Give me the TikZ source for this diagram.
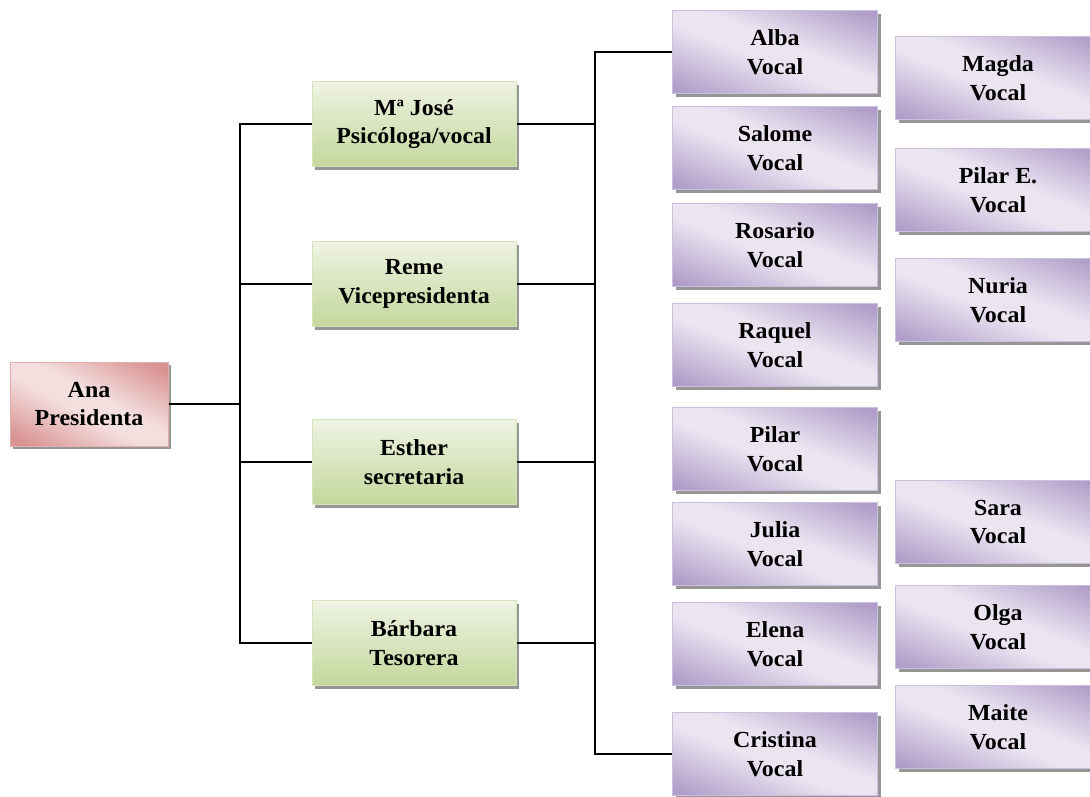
\documentclass[tikz,border=0pt]{standalone}
\usepackage{fontspec}
\setmainfont{Liberation Serif}[FakeStretch=1.04]
\usetikzlibrary{shadows}
\definecolor{pdark}{RGB}{176,157,201}
\definecolor{plight}{RGB}{234,229,241}
\definecolor{pborder}{RGB}{204,193,221}
\definecolor{rdark}{RGB}{216,146,145}
\definecolor{rlight}{RGB}{244,223,223}
\definecolor{rborder}{RGB}{228,174,174}
\definecolor{gdark}{RGB}{196,215,156}
\definecolor{glight}{RGB}{238,243,227}
\definecolor{gborder}{RGB}{214,227,188}
\definecolor{shadowgray}{RGB}{150,150,150}
\pgfdeclarehorizontalshading{purpshade}{100bp}{color(0bp)=(pdark); color(20bp)=(pdark); color(45bp)=(plight); color(55bp)=(plight); color(80bp)=(pdark); color(100bp)=(pdark)}
\pgfdeclarehorizontalshading{pinkshade}{100bp}{color(0bp)=(rdark); color(20bp)=(rdark); color(45bp)=(rlight); color(55bp)=(rlight); color(80bp)=(rdark); color(100bp)=(rdark)}
\tikzset{
  box/.style={rectangle, inner sep=0pt, align=center,
    font=\fontsize{23}{28.5}\selectfont\bfseries, line width=1pt,
    drop shadow={shadow xshift=3pt, shadow yshift=-3pt, fill=shadowgray, opacity=1}},
  pinkbox/.style={box, draw=rborder, shading=pinkshade, shading angle=62,
    minimum width=158pt, minimum height=84pt},
  greenbox/.style={box, draw=gborder, top color=glight, bottom color=gdark,
    minimum width=204pt, minimum height=85pt},
  purpbox/.style={box, draw=pborder, shading=purpshade, shading angle=68,
    minimum width=205pt, minimum height=83pt},
  conn/.style={line width=1.6pt, black}
}
\begin{document}
\begin{tikzpicture}[x=1pt, y=-1pt]
\useasboundingbox (0,0) rectangle (1090,796);
% root
\node[pinkbox] (ana) at (89,404) {Ana\\Presidenta};
% second level
\node[greenbox] (mjose) at (414,124) {Mª José\\Psicóloga/vocal};
\node[greenbox] (reme) at (414,284) {Reme\\Vicepresidenta};
\node[greenbox] (esther) at (414,462) {Esther\\secretaria};
\node[greenbox] (barbara) at (414,643) {Bárbara\\Tesorera};
% left column of vocals
\node[purpbox] (alba) at (775,52) {Alba\\Vocal};
\node[purpbox] (salome) at (775,148) {Salome\\Vocal};
\node[purpbox] (rosario) at (775,245) {Rosario\\Vocal};
\node[purpbox] (raquel) at (775,345) {Raquel\\Vocal};
\node[purpbox] (pilar) at (775,449) {Pilar\\Vocal};
\node[purpbox] (julia) at (775,544) {Julia\\Vocal};
\node[purpbox] (elena) at (775,644) {Elena\\Vocal};
\node[purpbox] (cristina) at (775,754) {Cristina\\Vocal};
% right column of vocals
\node[purpbox] (magda) at (998,78) {Magda\\Vocal};
\node[purpbox] (pilare) at (998,190) {Pilar E.\\Vocal};
\node[purpbox] (nuria) at (998,300) {Nuria\\Vocal};
\node[purpbox] (sara) at (998,522) {Sara\\Vocal};
\node[purpbox] (olga) at (998,627) {Olga\\Vocal};
\node[purpbox] (maite) at (998,727) {Maite\\Vocal};
% bus coordinates
\coordinate (busa) at (240,0);
\coordinate (busb) at (595,0);
% connectors root -> second level
\draw[conn] (ana.east) -- (ana.east -| busa);
\draw[conn] (mjose.west) -- (mjose.west -| busa) -- (barbara.west -| busa) -- (barbara.west);
\draw[conn] (reme.west) -- (reme.west -| busa);
\draw[conn] (esther.west) -- (esther.west -| busa);
% connectors second level -> vocals
\draw[conn] (alba.west) -- (alba.west -| busb) -- (cristina.west -| busb) -- (cristina.west);
\draw[conn] (mjose.east) -- (mjose.east -| busb);
\draw[conn] (reme.east) -- (reme.east -| busb);
\draw[conn] (esther.east) -- (esther.east -| busb);
\draw[conn] (barbara.east) -- (barbara.east -| busb);
\end{tikzpicture}
\end{document}
